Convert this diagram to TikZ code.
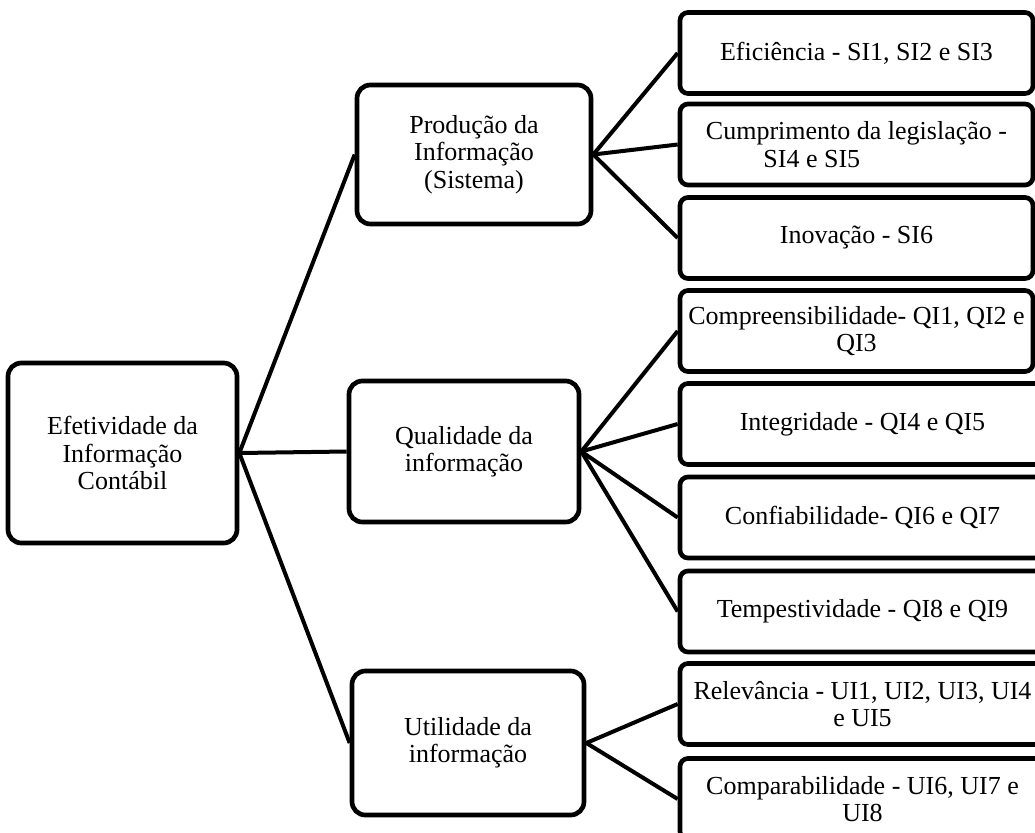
\documentclass[tikz,border=0pt]{standalone}
\usepackage{fontspec}
\setmainfont{Liberation Serif}
\newcommand{\upx}{0.75pt}

\tikzset{
  caixa/.style={draw, line width=3.5pt, rounded corners=10pt, align=center,
    inner sep=0pt, font=\fontsize{19.5}{20.6}\selectfont},
  folha/.style={caixa, rounded corners=6pt, minimum height=81*\upx},
  ramo/.style={line width=3pt}
}

\begin{document}
\begin{tikzpicture}[x=0.75pt, y=-0.75pt]
    \useasboundingbox (0,0) rectangle (1035,832);
    \clip (0,0) rectangle (1035,832);

    % Raiz
    \node[caixa, minimum width=229*\upx, minimum height=180*\upx] (raiz) at (122.5,453)
        {Efetividade da\\Informação\\Contábil};

    % Dimensoes
    \node[caixa, minimum width=234*\upx, minimum height=139*\upx] (prod) at (474,154.5)
        {Produção da\\Informação\\(Sistema)};
    \node[caixa, minimum width=230*\upx, minimum height=141*\upx] (qual) at (464,451.5)
        {Qualidade da\\informação};
    \node[caixa, minimum width=232*\upx, minimum height=144*\upx] (util) at (468,743)
        {Utilidade da\\informação};

    % Indicadores
    \foreach \nome/\y/\w/\txt in {
        efic/53/353/{Eficiência - SI1, SI2 e SI3},
        cumpr/144.5/353/{Cumprimento da legislação -\\SI4 e SI5\hspace*{67pt}},
        inov/238/353/{Inovação - SI6},
        compr/331/353/{Compreensibilidade- QI1, QI2 e\\QI3},
        integ/424/365/{Integridade - QI4 e QI5},
        confi/517.5/365/{Confiabilidade- QI6 e QI7},
        tempe/611.5/365/{Tempestividade - QI8 e QI9},
        relev/704/365/{Relevância - UI1, UI2, UI3, UI4\\e UI5},
        compa/799/365/{Comparabilidade - UI6, UI7 e\\UI8}}
        \node[folha, minimum width=\w*\upx] (\nome) at ({680+\w/2},\y) {\txt};

    % Ligacoes
    \foreach \f in {prod,qual,util}
        \draw[ramo] (raiz.east) -- (\f.west);
    \foreach \f in {efic,cumpr,inov}
        \draw[ramo] (prod.east) -- (\f.west);
    \foreach \f in {compr,integ,confi,tempe}
        \draw[ramo] (qual.east) -- (\f.west);
    \foreach \f in {relev,compa}
        \draw[ramo] (util.east) -- (\f.west);
\end{tikzpicture}
\end{document}
